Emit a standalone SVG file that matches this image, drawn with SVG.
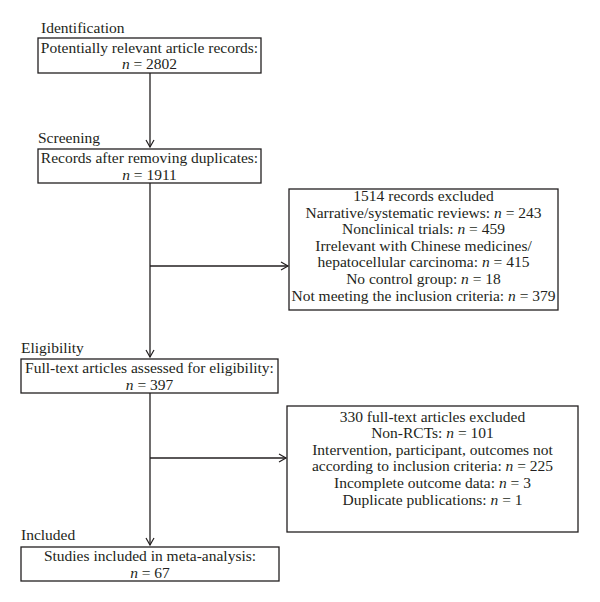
<svg xmlns="http://www.w3.org/2000/svg" width="600" height="602" viewBox="0 0 600 602">
<style>
text{font-family:"Liberation Serif","Times New Roman",serif;font-size:15.5px;fill:#231f20}
.c{text-anchor:middle}
.i{font-style:italic}
rect{fill:#fff;stroke:#231f20;stroke-width:1.3}
.ln{stroke:#231f20;stroke-width:1.3;fill:none}
</style>
<defs>
<marker id="ah" markerWidth="10" markerHeight="10" refX="8" refY="5" orient="auto" markerUnits="userSpaceOnUse">
<path d="M1,1 L8,5 L1,9" fill="none" stroke="#231f20" stroke-width="1.2"/>
</marker>
</defs>
<rect width="600" height="602" style="stroke:none"/>
<g id="labels">
<text x="41" y="33">Identification</text>
<text x="38" y="143">Screening</text>
<text x="21" y="353">Eligibility</text>
<text x="21" y="540">Included</text>
</g>
<g id="connectors">
<path class="ln" d="M150,73 V147" marker-end="url(#ah)"/>
<path class="ln" d="M150,183 V357" marker-end="url(#ah)"/>
<path class="ln" d="M150,266 H288" marker-end="url(#ah)"/>
<path class="ln" d="M150,393 V545" marker-end="url(#ah)"/>
<path class="ln" d="M150,458 H286" marker-end="url(#ah)"/>
</g>
<g id="n1">
<rect x="38" y="38" width="223" height="35"/>
<text class="c" x="149.5" y="52.5">Potentially relevant article records:</text>
<text class="c" x="149.5" y="69"><tspan class="i">n</tspan> = 2802</text>
</g>
<g id="n2">
<rect x="38" y="149" width="223" height="34"/>
<text class="c" x="149.5" y="163">Records after removing duplicates:</text>
<text class="c" x="149.5" y="179.5"><tspan class="i">n</tspan> = 1911</text>
</g>
<g id="n3">
<rect x="289" y="189" width="269" height="121"/>
<text class="c" x="423.5" y="201">1514 records excluded</text>
<text class="c" x="423.5" y="217.5">Narrative/systematic reviews: <tspan class="i">n</tspan> = 243</text>
<text class="c" x="423.5" y="234">Nonclinical trials: <tspan class="i">n</tspan> = 459</text>
<text class="c" x="423.5" y="250.5">Irrelevant with Chinese medicines/</text>
<text class="c" x="423.5" y="267">hepatocellular carcinoma: <tspan class="i">n</tspan> = 415</text>
<text class="c" x="423.5" y="284">No control group: <tspan class="i">n</tspan> = 18</text>
<text class="c" x="423.5" y="300.5">Not meeting the inclusion criteria: <tspan class="i">n</tspan> = 379</text>
</g>
<g id="n4">
<rect x="21" y="359" width="257" height="34"/>
<text class="c" x="149.5" y="373">Full-text articles assessed for eligibility:</text>
<text class="c" x="149.5" y="389.5"><tspan class="i">n</tspan> = 397</text>
</g>
<g id="n5">
<rect x="287" y="406" width="291" height="126"/>
<text class="c" x="432.5" y="421.5">330 full-text articles excluded</text>
<text class="c" x="432.5" y="438">Non-RCTs: <tspan class="i">n</tspan> = 101</text>
<text class="c" x="432.5" y="454.5">Intervention, participant, outcomes not</text>
<text class="c" x="432.5" y="471">according to inclusion criteria: <tspan class="i">n</tspan> = 225</text>
<text class="c" x="432.5" y="488">Incomplete outcome data: <tspan class="i">n</tspan> = 3</text>
<text class="c" x="432.5" y="504.5">Duplicate publications: <tspan class="i">n</tspan> = 1</text>
</g>
<g id="n6">
<rect x="21" y="547" width="258" height="34"/>
<text class="c" x="150" y="561">Studies included in meta-analysis:</text>
<text class="c" x="150" y="577.5"><tspan class="i">n</tspan> = 67</text>
</g>
</svg>
